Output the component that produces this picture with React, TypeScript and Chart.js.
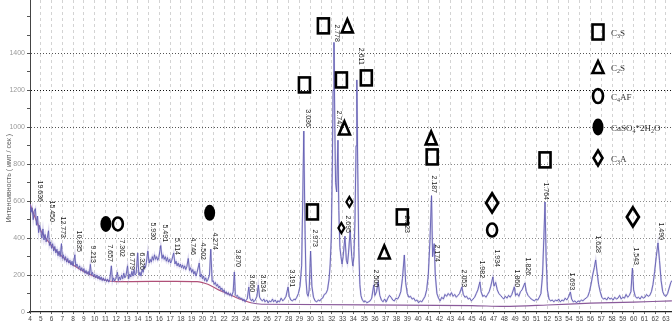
import React, { useEffect, useRef } from "react";
import { Chart, registerables } from "chart.js";

Chart.register(...registerables);

// ---------------- data ----------------
// diffraction scan: [2θ, counts]
const scanPoints: [number, number][] = [
  [4.0, 585], [4.1, 540], [4.2, 565], [4.3, 500], [4.4, 545], [4.5, 560], [4.6, 470], [4.7, 520], [4.8, 430], [4.9, 470],
  [5.0, 440], [5.1, 400], [5.2, 450], [5.3, 390], [5.4, 420], [5.5, 380], [5.6, 400], [5.72, 440], [5.8, 360], [5.9, 380],
  [6.0, 345], [6.1, 370], [6.2, 330], [6.3, 355], [6.4, 320], [6.5, 340], [6.6, 305], [6.7, 330], [6.8, 300], [6.92, 370],
  [7.0, 290], [7.1, 310], [7.2, 280], [7.3, 300], [7.4, 270], [7.5, 290], [7.6, 265], [7.7, 280], [7.8, 255], [7.9, 275],
  [8.0, 250], [8.16, 310], [8.25, 245], [8.35, 260], [8.5, 235], [8.6, 250], [8.7, 225], [8.8, 240], [8.9, 220], [9.0, 235],
  [9.1, 210], [9.2, 225], [9.3, 205], [9.4, 220], [9.5, 200], [9.6, 258], [9.7, 200], [9.8, 215], [9.9, 190], [10.0, 205],
  [10.1, 185], [10.2, 200], [10.3, 180], [10.4, 195], [10.5, 175], [10.6, 190], [10.7, 170], [10.8, 185], [10.9, 168], [11.0, 180],
  [11.1, 165], [11.2, 178], [11.3, 162], [11.4, 175], [11.55, 250], [11.65, 165], [11.75, 185], [11.85, 168], [11.95, 180], [12.11, 215],
  [12.2, 170], [12.3, 190], [12.4, 175], [12.5, 200], [12.6, 180], [12.7, 210], [12.8, 185], [12.9, 195], [13.05, 250], [13.15, 180],
  [13.25, 205], [13.35, 190], [13.45, 220], [13.55, 195], [13.65, 230], [13.75, 200], [13.85, 210], [13.99, 320], [14.1, 200], [14.2, 215],
  [14.3, 195], [14.4, 230], [14.5, 215], [14.6, 250], [14.7, 240], [14.8, 270], [14.93, 330], [15.05, 265], [15.15, 285], [15.25, 270],
  [15.35, 300], [15.45, 280], [15.55, 310], [15.65, 285], [15.75, 300], [15.85, 280], [15.95, 295], [16.13, 360], [16.25, 290], [16.35, 310],
  [16.45, 285], [16.55, 300], [16.65, 275], [16.75, 295], [16.85, 270], [16.95, 285], [17.05, 265], [17.15, 280], [17.33, 320], [17.45, 260],
  [17.55, 275], [17.65, 250], [17.75, 265], [17.85, 245], [17.95, 260], [18.05, 240], [18.15, 255], [18.25, 235], [18.35, 250], [18.45, 230],
  [18.55, 245], [18.68, 290], [18.8, 225], [18.9, 240], [19.0, 215], [19.1, 230], [19.2, 205], [19.3, 220], [19.4, 195], [19.5, 215],
  [19.7, 265], [19.8, 190], [19.9, 205], [20.0, 180], [20.1, 195], [20.2, 170], [20.3, 185], [20.4, 165], [20.5, 175], [20.65, 200],
  [20.77, 340], [20.9, 165], [21.0, 170], [21.1, 150], [21.2, 160], [21.3, 140], [21.4, 150], [21.5, 130], [21.6, 140], [21.7, 120],
  [21.8, 130], [21.9, 110], [22.0, 120], [22.1, 100], [22.2, 110], [22.3, 95], [22.4, 105], [22.5, 90], [22.6, 100], [22.7, 85],
  [22.85, 110], [22.96, 217], [23.05, 95], [23.15, 85], [23.25, 90], [23.35, 75], [23.45, 80], [23.55, 70], [23.65, 75], [23.75, 60],
  [23.85, 70], [23.95, 55], [24.05, 65], [24.15, 70], [24.3, 135], [24.4, 75], [24.55, 60], [24.65, 70], [24.75, 55], [24.9, 65],
  [25.05, 85], [25.18, 146], [25.3, 80], [25.45, 65], [25.55, 60], [25.7, 70], [25.8, 55], [25.95, 65], [26.1, 50], [26.2, 60],
  [26.35, 55], [26.5, 70], [26.6, 55], [26.75, 65], [26.9, 50], [27.0, 60], [27.15, 55], [27.3, 75], [27.45, 60], [27.6, 70],
  [27.75, 85], [27.94, 135], [28.05, 85], [28.2, 65], [28.35, 60], [28.5, 70], [28.6, 65], [28.75, 80], [28.9, 100], [29.05, 140],
  [29.2, 250], [29.3, 600], [29.4, 980], [29.5, 500], [29.6, 180], [29.7, 100], [29.8, 85], [29.9, 120], [30.03, 330], [30.15, 140],
  [30.3, 80], [30.45, 60], [30.6, 55], [30.75, 65], [30.9, 60], [31.0, 70], [31.15, 75], [31.3, 95], [31.45, 100], [31.6, 120],
  [31.75, 180], [31.85, 260], [31.95, 400], [32.05, 800], [32.12, 1200], [32.2, 1460], [32.28, 1000], [32.35, 700], [32.45, 650], [32.57, 930],
  [32.65, 550], [32.75, 350], [32.85, 300], [32.95, 260], [33.05, 300], [33.22, 410], [33.35, 280], [33.45, 260], [33.55, 320], [33.7, 440],
  [33.85, 300], [33.95, 250], [34.05, 300], [34.15, 500], [34.25, 900], [34.32, 1257], [34.4, 800], [34.5, 350], [34.6, 150], [34.7, 90],
  [34.8, 70], [34.95, 55], [35.1, 60], [35.25, 50], [35.4, 55], [35.55, 60], [35.7, 75], [35.89, 146], [36.0, 90], [36.15, 110],
  [36.3, 163], [36.45, 90], [36.6, 65], [36.75, 55], [36.9, 70], [37.05, 55], [37.2, 75], [37.35, 90], [37.5, 80], [37.65, 65],
  [37.8, 60], [37.95, 75], [38.1, 70], [38.25, 85], [38.4, 110], [38.55, 180], [38.73, 309], [38.85, 160], [39.0, 100], [39.15, 80],
  [39.3, 85], [39.45, 70], [39.6, 75], [39.75, 60], [39.9, 65], [40.05, 50], [40.2, 60], [40.35, 55], [40.5, 70], [40.65, 85],
  [40.8, 120], [40.95, 200], [41.1, 380], [41.25, 630], [41.35, 300], [41.5, 370], [41.6, 200], [41.75, 100], [41.9, 75], [42.05, 60],
  [42.2, 80], [42.35, 70], [42.5, 95], [42.65, 85], [42.8, 100], [42.95, 90], [43.1, 105], [43.25, 85], [43.4, 95], [43.55, 80],
  [43.7, 90], [43.85, 100], [44.07, 136], [44.2, 95], [44.35, 80], [44.5, 85], [44.65, 70], [44.8, 75], [44.95, 60], [45.1, 70],
  [45.25, 80], [45.4, 100], [45.55, 120], [45.74, 163], [45.85, 110], [46.0, 85], [46.15, 90], [46.3, 80], [46.45, 95], [46.6, 110],
  [46.75, 140], [46.94, 190], [47.05, 140], [47.2, 160], [47.35, 120], [47.5, 100], [47.65, 90], [47.8, 80], [47.95, 70], [48.1, 85],
  [48.25, 75], [48.4, 90], [48.55, 80], [48.7, 95], [48.93, 136], [49.05, 90], [49.2, 100], [49.35, 85], [49.5, 110], [49.65, 120],
  [49.91, 157], [50.05, 110], [50.2, 90], [50.35, 80], [50.5, 70], [50.65, 65], [50.8, 60], [50.95, 70], [51.1, 65], [51.25, 80],
  [51.4, 100], [51.55, 200], [51.7, 450], [51.78, 596], [51.88, 300], [52.0, 120], [52.15, 70], [52.3, 60], [52.45, 65], [52.6, 55],
  [52.75, 65], [52.9, 60], [53.05, 70], [53.2, 55], [53.35, 65], [53.5, 60], [53.65, 75], [53.8, 65], [53.95, 80], [54.13, 108],
  [54.25, 70], [54.4, 55], [54.55, 60], [54.7, 50], [54.85, 60], [55.0, 55], [55.15, 65], [55.3, 60], [55.45, 70], [55.6, 75],
  [55.75, 85], [55.9, 110], [56.05, 150], [56.2, 200], [56.35, 240], [56.48, 282], [56.6, 220], [56.75, 150], [56.9, 110], [57.05, 80],
  [57.2, 70], [57.35, 75], [57.5, 65], [57.65, 80], [57.8, 70], [57.95, 75], [58.1, 65], [58.25, 80], [58.4, 70], [58.55, 75],
  [58.7, 90], [58.85, 70], [59.0, 80], [59.15, 75], [59.3, 95], [59.45, 80], [59.6, 90], [59.75, 110], [59.89, 238], [60.0, 120],
  [60.15, 85], [60.3, 75], [60.45, 80], [60.6, 70], [60.75, 85], [60.9, 75], [61.05, 80], [61.2, 95], [61.35, 85], [61.5, 90],
  [61.65, 110], [61.8, 150], [61.95, 220], [62.1, 300], [62.26, 374], [62.4, 280], [62.55, 170], [62.7, 110], [62.85, 90], [63.0, 85],
  [63.15, 100], [63.3, 130], [63.45, 160], [63.55, 170],
];

// background line: [2θ, counts]
const backgroundPoints: [number, number][] = [
  [4, 585], [5, 440], [6, 360], [7, 300], [8, 255], [9, 220], [10, 192], [11, 172], [12, 165], [19.5, 165],
  [20.5, 150], [21.5, 120], [22.5, 95], [23.5, 70], [24.5, 50], [25.5, 42], [45, 35], [48, 30], [52, 38], [56, 48],
  [60, 54], [63.55, 60],
];

// d-spacing labels: text, 2θ position, count level of the label's lower end
const peakLabelTexts = [
  "19.636", "15.450", "12.773", "10.835", "9.213", "7.657", "7.302", "6.779", "6.326", "5.930",
  "5.491", "5.114", "4.746", "4.502", "4.274", "3.870", "3.660", "3.534", "3.191", "3.036",
  "2.973", "2.778", "2.747", "2.695", "2.611", "2.500", "2.323", "2.187", "2.174", "2.053",
  "1.982", "1.934", "1.860", "1.826", "1.764", "1.693", "1.628", "1.543", "1.490",
];
const peakLabelAngles = [
  4.93, 6.04, 7.06, 8.54, 9.83, 11.41, 12.52, 13.44, 14.37, 15.39,
  16.5, 17.61, 19.09, 20.02, 21.13, 23.26, 24.56, 25.57, 28.26, 29.74,
  30.39, 32.43, 32.7, 33.54, 34.74, 36.13, 39.0, 41.5, 41.78, 44.28,
  45.94, 47.33, 49.19, 50.2, 51.87, 54.28, 56.69, 60.2, 62.52,
];
const peakLabelCounts = [
  596, 488, 401, 325, 266, 271, 298, 228, 228, 390,
  379, 309, 309, 282, 336, 244, 108, 108, 135, 1003,
  352, 1463, 997, 428, 1339, 135, 428, 645, 271, 135,
  184, 244, 135, 200, 607, 119, 320, 255, 390,
];

// phase markers (2θ, counts)
const c3sAngles = [31.22, 29.46, 32.89, 35.2, 30.2, 38.54, 41.31, 51.78];
const c3sCounts = [1550, 1230, 1257, 1268, 542, 515, 840, 824];
const c2sAngles = [33.44, 33.17, 36.87, 41.22];
const c2sCounts = [1550, 997, 325, 943];
const c4afAngles = [12.15, 46.87];
const c4afCounts = [477, 444];
const gypsumAngles = [11.04, 20.67];
const gypsumCounts = [477, 537];
const c3aAngles = [46.87, 59.93, 32.89, 33.63];
const c3aCounts = [591, 515, 455, 596];
const c3aBig = [true, true, false, false];

// legend entries, split into [text, isSubscript] runs
const legendEntries: [string, boolean][][] = [
  [["C", false], ["3", true], ["S", false]],
  [["C", false], ["2", true], ["S", false]],
  [["C", false], ["4", true], ["AF", false]],
  [["CaSO", false], ["4", true], ["*2H", false], ["2", true], ["O", false]],
  [["C", false], ["3", true], ["A", false]],
];

const xTickValues = [
  4, 5, 6, 7, 8, 9, 10, 11, 12, 13, 14, 15, 16, 17, 18, 19, 20, 21, 22, 23,
  24, 25, 26, 27, 28, 29, 30, 31, 32, 33, 34, 35, 36, 37, 38, 39, 40, 41, 42, 43,
  44, 45, 46, 47, 48, 49, 50, 51, 52, 53, 54, 55, 56, 57, 58, 59, 60, 61, 62, 63,
];
const yTickValues = [0, 100, 200, 300, 400, 500, 600, 700, 800, 900, 1000, 1100, 1200, 1300, 1400, 1500, 1600];
const yLabelMax = 1400;
const yAxisTitle = "Интенсивность ( имп / сек )";

// ---------------- drawing helpers ----------------
function drawSquare(ctx: CanvasRenderingContext2D, cx: number, cy: number, w: number, h: number) {
  ctx.lineWidth = 2.6;
  ctx.strokeStyle = "#000";
  ctx.strokeRect(cx - w / 2, cy - h / 2, w, h);
}
function drawTriangle(ctx: CanvasRenderingContext2D, cx: number, cy: number, w: number, h: number) {
  ctx.lineWidth = 2.6;
  ctx.strokeStyle = "#000";
  ctx.lineJoin = "miter";
  ctx.beginPath();
  ctx.moveTo(cx, cy - h / 2);
  ctx.lineTo(cx + w / 2, cy + h / 2);
  ctx.lineTo(cx - w / 2, cy + h / 2);
  ctx.closePath();
  ctx.stroke();
}
function drawEllipse(ctx: CanvasRenderingContext2D, cx: number, cy: number, rx: number, ry: number, filled: boolean) {
  ctx.beginPath();
  ctx.ellipse(cx, cy, rx, ry, 0, 0, Math.PI * 2);
  if (filled) {
    ctx.fillStyle = "#000";
    ctx.fill();
  } else {
    ctx.lineWidth = 2.6;
    ctx.strokeStyle = "#000";
    ctx.stroke();
  }
}
function drawDiamond(ctx: CanvasRenderingContext2D, cx: number, cy: number, w: number, h: number, lw: number) {
  ctx.lineWidth = lw;
  ctx.strokeStyle = "#000";
  ctx.lineJoin = "miter";
  ctx.beginPath();
  ctx.moveTo(cx, cy - h / 2);
  ctx.lineTo(cx + w / 2, cy);
  ctx.lineTo(cx, cy + h / 2);
  ctx.lineTo(cx - w / 2, cy);
  ctx.closePath();
  ctx.stroke();
}

const overlayPlugin = {
  id: "xrdOverlay",
  afterDatasetsDraw(chart: any) {
    const ctx: CanvasRenderingContext2D = chart.ctx;
    const xs = chart.scales.x;
    const ys = chart.scales.y;
    ctx.save();

    // d-spacing labels, rotated clockwise
    ctx.font = '7px "Liberation Sans", Arial, sans-serif';
    ctx.fillStyle = "#1a1a1a";
    peakLabelTexts.forEach((t, i) => {
      const px = xs.getPixelForValue(peakLabelAngles[i]);
      const py = ys.getPixelForValue(peakLabelCounts[i]);
      const w = ctx.measureText(t).width;
      ctx.save();
      ctx.translate(px, py - w);
      ctx.rotate(Math.PI / 2);
      ctx.textAlign = "left";
      ctx.textBaseline = "middle";
      ctx.fillText(t, 0, 0);
      ctx.restore();
    });

    // phase markers
    c3sAngles.forEach((a, i) => drawSquare(ctx, xs.getPixelForValue(a), ys.getPixelForValue(c3sCounts[i]), 11, 15));
    c2sAngles.forEach((a, i) => drawTriangle(ctx, xs.getPixelForValue(a), ys.getPixelForValue(c2sCounts[i]), 11, 13));
    c4afAngles.forEach((a, i) => drawEllipse(ctx, xs.getPixelForValue(a), ys.getPixelForValue(c4afCounts[i]), 5, 6.5, false));
    gypsumAngles.forEach((a, i) => drawEllipse(ctx, xs.getPixelForValue(a), ys.getPixelForValue(gypsumCounts[i]), 5.5, 8, true));
    c3aAngles.forEach((a, i) => {
      const big = c3aBig[i];
      drawDiamond(ctx, xs.getPixelForValue(a), ys.getPixelForValue(c3aCounts[i]), big ? 12 : 6, big ? 19 : 10, big ? 2.8 : 2.2);
    });

    // legend
    const lx = 598;
    const lys = [32, 67, 96, 127, 158];
    drawSquare(ctx, lx, lys[0], 11, 15);
    drawTriangle(ctx, lx, lys[1], 11, 12);
    drawEllipse(ctx, lx, lys[2], 5, 7, false);
    drawEllipse(ctx, lx, lys[3], 5.5, 8.5, true);
    drawDiamond(ctx, lx, lys[4], 9, 15, 2.6);
    ctx.fillStyle = "#333";
    ctx.textAlign = "left";
    ctx.textBaseline = "alphabetic";
    legendEntries.forEach((runs, i) => {
      let tx = 611;
      const ty = lys[i] + 4;
      runs.forEach(([txt, sub]) => {
        ctx.font = sub ? '6px "Liberation Serif", "Times New Roman", serif' : '9px "Liberation Serif", "Times New Roman", serif';
        ctx.fillText(txt, tx, sub ? ty + 2 : ty);
        tx += ctx.measureText(txt).width;
      });
    });

    // y axis title
    ctx.save();
    ctx.font = '7px "Liberation Sans", Arial, sans-serif';
    ctx.fillStyle = "#555";
    ctx.translate(9, 178);
    ctx.rotate(-Math.PI / 2);
    ctx.textAlign = "center";
    ctx.textBaseline = "middle";
    ctx.fillText(yAxisTitle, 0, 0);
    ctx.restore();

    ctx.restore();
  },
};

export default function App() {
  const ref = useRef<HTMLCanvasElement | null>(null);

  useEffect(() => {
    document.body.style.margin = "0";
    if (!ref.current) return;
    const scan = scanPoints.map(([x, y]) => ({ x, y }));
    const bg = backgroundPoints.map(([x, y]) => ({ x, y }));
    const chart = new Chart(ref.current, {
      type: "line",
      data: {
        datasets: [
          {
            label: "halo",
            data: scan,
            borderColor: "rgba(170,160,215,0.4)",
            borderWidth: 1.8,
            pointRadius: 0,
            tension: 0,
          },
          {
            label: "scan",
            data: scan,
            borderColor: "#30309a",
            borderWidth: 0.9,
            pointRadius: 0,
            tension: 0,
          },
          {
            label: "background",
            data: bg,
            borderWidth: 1.2,
            pointRadius: 0,
            tension: 0.3,
            borderColor: "#b05078",
            segment: {
              borderColor: (c: any) => (c.p0.parsed.x < 24 ? "#b05078" : "#8a5a9a"),
            },
          } as any,
        ],
      },
      options: {
        responsive: false,
        animation: false,
        devicePixelRatio: 1,
        layout: { padding: 0 },
        plugins: { legend: { display: false }, tooltip: { enabled: false }, title: { display: false } },
        scales: {
          x: {
            type: "linear",
            min: 4,
            max: 63.56,
            afterBuildTicks: (s: any) => {
              s.ticks = xTickValues.map((v) => ({ value: v }));
            },
            afterFit: (s: any) => {
              s.height = 12;
              s.paddingLeft = 0;
              s.paddingRight = 0;
            },
            ticks: {
              autoSkip: false,
              maxRotation: 0,
              padding: 1,
              color: "#444",
              font: { size: 6.5, family: '"Liberation Sans", Arial, sans-serif' },
              callback: (v: any) => String(v),
            },
            grid: {
              color: "#c8c8c8",
              lineWidth: 0.8,
              tickLength: 2,
              tickColor: "#333",
            },
            border: { color: "#222", width: 1.2, dash: [3, 3] },
          },
          y: {
            type: "linear",
            min: 0,
            max: 1690,
            afterBuildTicks: (s: any) => {
              s.ticks = yTickValues.map((v) => ({ value: v }));
            },
            afterFit: (s: any) => {
              s.width = 30;
              s.paddingTop = 0;
              s.paddingBottom = 0;
            },
            ticks: {
              padding: 2,
              color: "#9a9a9a",
              font: { size: 7, family: '"Liberation Sans", Arial, sans-serif' },
              callback: (v: any) => (v % 200 === 0 && v <= yLabelMax ? String(v) : ""),
            },
            grid: {
              color: (c: any) => {
                const v = c.tick ? c.tick.value : 0;
                if (v === 0 || v % 200 !== 0 || v > yLabelMax) return "rgba(0,0,0,0)";
                if (v === 1200) return "#111";
                if (v >= 1000) return "#555";
                return "#8a8a8a";
              },
              lineWidth: 1,
              tickLength: 3,
              tickColor: "#555",
            },
            border: { color: "#444", width: 1, dash: [1, 2] },
          },
        },
      },
      plugins: [overlayPlugin],
    } as any);
    return () => chart.destroy();
  }, []);

  return (
    <div style={{ width: 672, height: 324, background: "#fff" }}>
      <canvas ref={ref} width={672} height={324} style={{ display: "block" }} />
    </div>
  );
}
